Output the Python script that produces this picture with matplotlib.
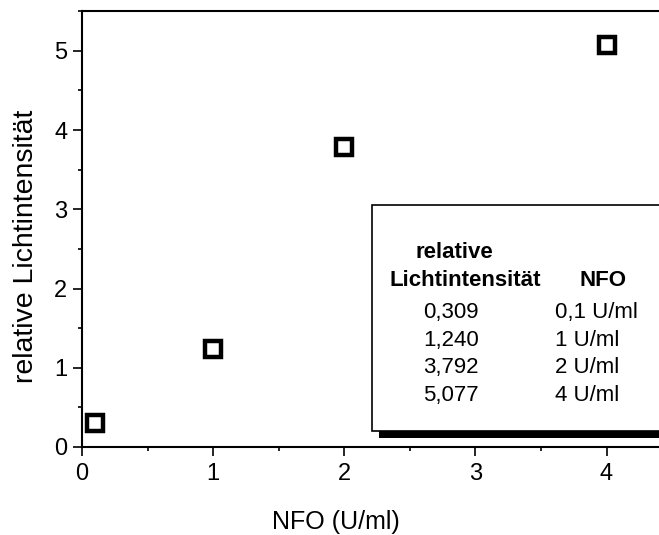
import numpy as np
import matplotlib.pyplot as plt
from matplotlib.patches import Rectangle
from matplotlib.ticker import MultipleLocator

plt.rcParams['font.family'] = ['Liberation Sans', 'DejaVu Sans']

nfo = [0.1, 1, 2, 4]
intensity = [0.309, 1.240, 3.792, 5.077]
intensity_labels = ["0,309", "1,240", "3,792", "5,077"]
nfo_labels = ["0,1 U/ml", "1 U/ml", "2 U/ml", "4 U/ml"]

fig = plt.figure(figsize=(6.59, 5.35), dpi=100)
ax = fig.add_axes([0.1244, 0.1645, 0.8756, 0.8145])

ax.plot(nfo, intensity, "s", ls="none", mfc="white", mec="black", ms=11, mew=3.2, zorder=5)

ax.set_xlim(0, 4.4)
ax.set_ylim(0, 5.5)
ax.xaxis.set_major_locator(MultipleLocator(1))
ax.xaxis.set_minor_locator(MultipleLocator(0.5))
ax.yaxis.set_major_locator(MultipleLocator(1))
ax.yaxis.set_minor_locator(MultipleLocator(0.5))
ax.tick_params(which="major", direction="out", length=6.5, width=1.2, labelsize=17, pad=4)
ax.tick_params(axis="x", which="major", pad=5)
ax.tick_params(which="minor", direction="out", length=3, width=1.2)
for s in ["left", "bottom", "top"]:
    ax.spines[s].set_linewidth(1.5)
ax.spines["right"].set_visible(False)

ax.set_xlabel("NFO (U/ml)", fontsize=18)
ax.xaxis.set_label_coords(0.44, -0.145)
ax.set_ylabel("relative Lichtintensität", fontsize=20.5)
ax.yaxis.set_label_coords(-0.074, 0.461)

# table box with shadow (pixel positions converted to figure fraction)
W, H = 659.0, 535.0
bx0, by_top, by_bot = 372, 205, 431
shadow = Rectangle((379 / W, 1 - 438 / H), 1, (438 - by_top - 7) / H,
                   transform=fig.transFigure, facecolor="black", edgecolor="none", zorder=6)
box = Rectangle((bx0 / W, 1 - by_bot / H), 1, (by_bot - by_top) / H,
                transform=fig.transFigure, facecolor="white", edgecolor="black", lw=1.2, zorder=7)
fig.add_artist(shadow)
fig.add_artist(box)

fs = 16
fig.text(454 / W, 1 - 250 / H, "relative", ha="center", va="center_baseline", fontsize=fs, fontweight="bold", zorder=8)
fig.text(465 / W, 1 - 278 / H, "Lichtintensität", ha="center", va="center_baseline", fontsize=fs, fontweight="bold", zorder=8)
fig.text(603 / W, 1 - 278 / H, "NFO", ha="center", va="center_baseline", fontsize=fs, fontweight="bold", zorder=8)
rows_y = [310, 338, 365, 393]
for yy, a, b in zip(rows_y, intensity_labels, nfo_labels):
    fig.text(451 / W, 1 - yy / H, a, ha="center", va="center_baseline", fontsize=fs, zorder=8)
    fig.text(555 / W, 1 - yy / H, b, ha="left", va="center_baseline", fontsize=fs, zorder=8)

fig.savefig("out.png", dpi=100)
